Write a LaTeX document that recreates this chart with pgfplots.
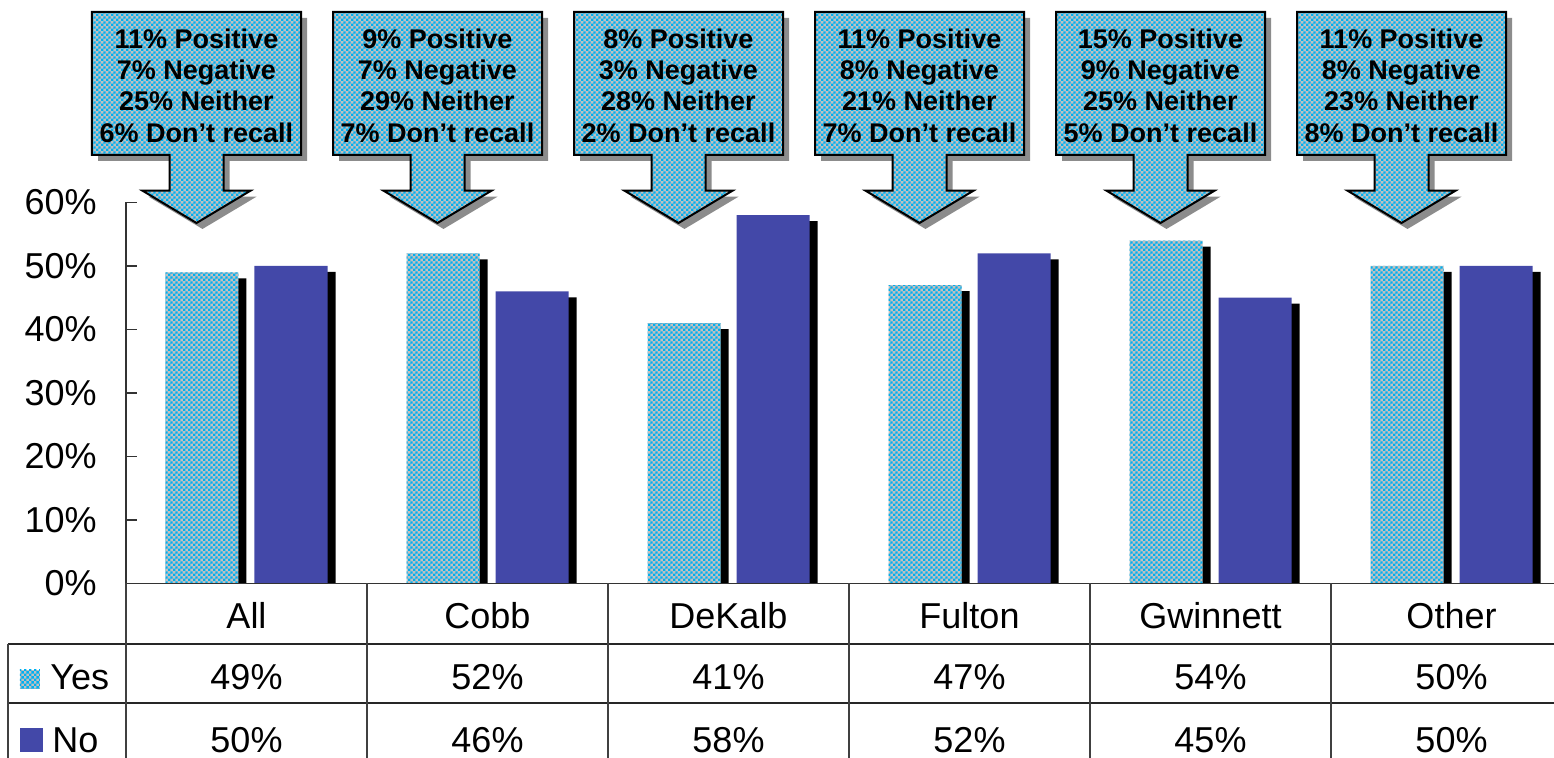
\documentclass[border=0pt]{standalone}
\usepackage{fontspec}
\setmainfont{Liberation Sans}
\usepackage{pgfplots}
\pgfplotsset{compat=1.18}
\usepackage{pgfplotstable}
\usetikzlibrary{patterns,shadows}

\definecolor{chkcyan}{RGB}{0,176,240}
\definecolor{chkgray}{RGB}{192,192,192}
\definecolor{nobar}{RGB}{67,72,168}

\pgfdeclarepatternformonly{chk}{\pgfpointorigin}{\pgfqpoint{2.4pt}{2.4pt}}{\pgfqpoint{2.4pt}{2.4pt}}{%
  \pgfpathrectangle{\pgfpointorigin}{\pgfqpoint{1.2pt}{1.2pt}}%
  \pgfpathrectangle{\pgfqpoint{1.2pt}{1.2pt}}{\pgfqpoint{1.2pt}{1.2pt}}%
  \pgfusepath{fill}}

\pgfplotstableread{
x yes no
0 49 50
1 52 46
2 41 58
3 47 52
4 54 45
5 50 50
}\datatable

\newcommand{\callout}[2]{%
  \begin{scope}[xshift=#1pt]
    \path[drop shadow={shadow xshift=3pt, shadow yshift=-3pt, fill=black!45, opacity=1},
          fill=chkgray, postaction={pattern=chk, pattern color=chkcyan},
          postaction={draw=black, line width=1pt, line join=miter}]
      (-52.25pt,285.75pt) -- (52.25pt,285.75pt) -- (52.25pt,214.25pt) -- (13.5pt,214.25pt)
      -- (13.5pt,196.4pt) -- (27pt,196.4pt) -- (0pt,180.25pt) -- (-27pt,196.4pt)
      -- (-13.5pt,196.4pt) -- (-13.5pt,214.25pt) -- (-52.25pt,214.25pt) -- cycle;
    \node[align=center, inner sep=0pt, font=\bfseries\fontsize{13.5}{15.65}\selectfont] at (0pt,249pt) {#2};
  \end{scope}}

\newcommand{\tabfont}{\fontsize{18}{21.6}\selectfont}

\begin{document}
\begin{tikzpicture}
\useasboundingbox (-63pt,-87.25pt) rectangle (714pt,291.75pt);
\begin{axis}[
  at={(0pt,0pt)}, anchor=south west,
  scale only axis, width=714pt, height=190.5pt,
  xmin=-0.5, xmax=5.4253, ymin=0, ymax=60,
  axis on top,
  axis x line*=bottom, axis y line*=left,
  axis line style={-, line width=0.8pt, draw=black!80},
  ytick={0,10,...,60}, yticklabels={0\%,10\%,20\%,30\%,40\%,50\%,60\%},
  tick align=inside, major tick length=5.5pt,
  ytick style={line width=0.8pt, draw=black!80},
  yticklabel style={font=\tabfont, anchor=east, inner sep=0pt, xshift=-14.5pt},
  xtick={0,...,5}, xticklabels={All,Cobb,DeKalb,Fulton,Gwinnett,Other},
  xtick style={draw=none},
  xticklabel style={font=\tabfont, anchor=base, inner sep=0pt, yshift=-17pt},
  ybar, bar width=36.5pt,
]
\addplot[fill=black, draw=none, bar shift=-18.25pt, yshift=-3pt] table[x=x,y=yes]{\datatable};
\addplot[fill=black, draw=none, bar shift=26.25pt, yshift=-3pt] table[x=x,y=no]{\datatable};
\addplot[fill=chkgray, draw=none, bar shift=-22.25pt, postaction={pattern=chk, pattern color=chkcyan}] table[x=x,y=yes]{\datatable};
\addplot[fill=nobar, draw=none, bar shift=22.25pt] table[x=x,y=no]{\datatable};
\end{axis}

% data table lines
\draw[line width=0.8pt, black!85] (-59pt,-30.25pt) -- (720pt,-30.25pt);
\draw[line width=0.8pt, black!85] (-59pt,-59.75pt) -- (720pt,-59.75pt);
\draw[line width=0.8pt, black!75] (-59pt,-30.25pt) -- (-59pt,-95pt);
\foreach \k in {0,...,5} {
  \draw[line width=0.8pt, black!75] ({120.5pt*\k},0pt) -- ({120.5pt*\k},-95pt);
}
% table values
\foreach \k/\y/\n in {0/49/50,1/52/46,2/41/58,3/47/52,4/54/45,5/50/50} {
  \node[anchor=base, inner sep=0pt, font=\tabfont] at ({120.5pt*(\k+0.5)},-53.25pt) {\y\%};
  \node[anchor=base, inner sep=0pt, font=\tabfont] at ({120.5pt*(\k+0.5)},-84.75pt) {\n\%};
}
% legend
\fill[chkgray] (-53pt,-43.25pt) rectangle (-43pt,-52.75pt);
\fill[pattern=chk, pattern color=chkcyan] (-53pt,-43.25pt) rectangle (-43pt,-52.75pt);
\node[anchor=base west, inner sep=0pt, font=\tabfont] at (-38pt,-53.25pt) {Yes};
\fill[nobar] (-53pt,-72.25pt) rectangle (-41.5pt,-84.25pt);
\node[anchor=base west, inner sep=0pt, font=\tabfont] at (-37pt,-84.75pt) {No};

% callouts
\callout{35.25}{11\% Positive\\7\% Negative\\25\% Neither\\6\% Don’t recall}
\callout{155.75}{9\% Positive\\7\% Negative\\29\% Neither\\7\% Don’t recall}
\callout{276.25}{8\% Positive\\3\% Negative\\28\% Neither\\2\% Don’t recall}
\callout{396.75}{11\% Positive\\8\% Negative\\21\% Neither\\7\% Don’t recall}
\callout{517.25}{15\% Positive\\9\% Negative\\25\% Neither\\5\% Don’t recall}
\callout{637.75}{11\% Positive\\8\% Negative\\23\% Neither\\8\% Don’t recall}
\end{tikzpicture}
\end{document}
